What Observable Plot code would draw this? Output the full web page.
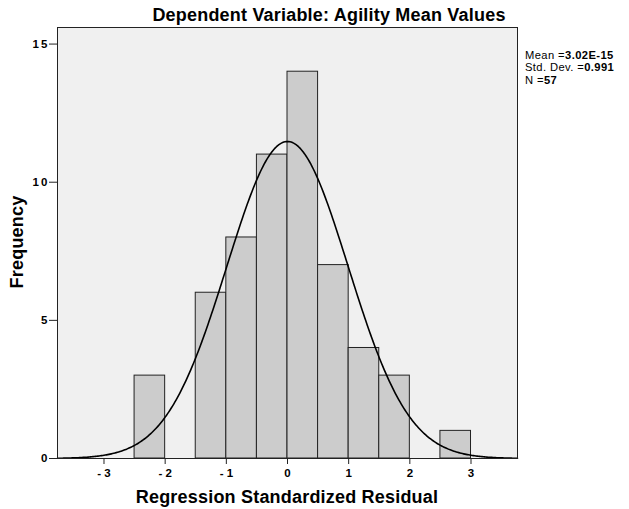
<!DOCTYPE html>
<html>
<head>
<meta charset="utf-8">
<script src="https://cdn.jsdelivr.net/npm/d3@7"></script>
<script src="https://cdn.jsdelivr.net/npm/@observablehq/plot@0.6"></script>
<style>
  html, body { margin: 0; padding: 0; background: #fff; }
  svg { display: block; }
</style>
</head>
<body>
<div id="chart"></div>
<script>
// Histogram bins (lower edge, upper edge) and counts
const binStart = [-2.5, -1.5, -1.0, -0.5, 0.0, 0.5, 1.0, 1.5, 2.5];
const binEnd   = [-2.0, -1.0, -0.5, 0.0, 0.5, 1.0, 1.5, 2.0, 3.0];
const counts   = [3, 6, 8, 11, 14, 7, 4, 3, 1];
const xTicks = [-3, -2, -1, 0, 1, 2, 3];
const yTicks = [0, 5, 10, 15];
const statMean = 3.02e-15;
const statSD = 0.991;
const statN = 57;
const binWidth = 0.5;

const bars = binStart.map((s, i) => ({x1: s, x2: binEnd[i], y: counts[i]}));

// Normal curve defined by the stated mean / std. dev. / N
const xDomain = [-3.76, 3.76];
const curve = d3.range(xDomain[0], xDomain[1] + 0.001, 0.02).map(x => ({
  x,
  y: statN * binWidth / (statSD * Math.sqrt(2 * Math.PI)) * Math.exp(-0.5 * ((x - statMean) / statSD) ** 2)
}));

const W = 629, H = 509;
const mL = 57, mR = 112, mT = 27, mB = 51;
const font = "'Liberation Sans', Arial, Helvetica, sans-serif";

const chart = Plot.plot({
  width: W,
  height: H,
  marginLeft: mL,
  marginRight: mR,
  marginTop: mT,
  marginBottom: mB,
  style: {fontFamily: font, background: "#fff", overflow: "visible"},
  x: {domain: xDomain, axis: null},
  y: {domain: [0, 15.6], axis: null},
  marks: [
    Plot.frame({fill: "#f0f0f0", stroke: "none"}),
    Plot.rectY(bars, {x1: "x1", x2: "x2", y: "y", fill: "#cccccc", stroke: "#222", strokeWidth: 1}),
    Plot.line(curve, {x: "x", y: "y", stroke: "#000", strokeWidth: 1.6}),
    Plot.frame({stroke: "#222", strokeWidth: 1}),
    Plot.axisX({ticks: xTicks, tickSize: 6, tickPadding: 4, stroke: "#222",
      tickFormat: d => d < 0 ? "- " + Math.abs(d) : String(d),
      fontWeight: "bold", fontSize: 11.5, fill: "#000", label: null}),
    Plot.axisY({ticks: yTicks, tickSize: 8, tickPadding: 2, stroke: "#222",
      tickFormat: d => String(d).split("").join("\u2009"),
      fontWeight: "bold", fontSize: 11.5, fill: "#000", label: null})
  ]
});

document.getElementById("chart").appendChild(chart);

const svg = d3.select(chart);
svg.append("text")
  .attr("x", 329).attr("y", 21)
  .attr("text-anchor", "middle")
  .attr("font-family", font).attr("font-weight", "bold").attr("font-size", 18)
  .attr("letter-spacing", 0.2)
  .text("Dependent Variable: Agility Mean Values");
svg.append("text")
  .attr("x", 287).attr("y", 503)
  .attr("text-anchor", "middle")
  .attr("font-family", font).attr("font-weight", "bold").attr("font-size", 18)
  .attr("letter-spacing", 0.2)
  .text("Regression Standardized Residual");
svg.append("text")
  .attr("transform", "translate(23,242) rotate(-90)")
  .attr("text-anchor", "middle")
  .attr("font-family", font).attr("font-weight", "bold").attr("font-size", 18)
  .attr("letter-spacing", 0.2)
  .text("Frequency");

const legend = [["Mean =", "3.02E-15"], ["Std. Dev. =", "0.991"], ["N =", "57"]];
legend.forEach(([a, b], i) => {
  const t = svg.append("text")
    .attr("x", 525).attr("y", 59 + i * 12.3)
    .attr("text-anchor", "start")
    .attr("letter-spacing", 0.4)
    .attr("font-family", font).attr("font-size", 11.2).attr("fill", "#000");
  t.append("tspan").text(a);
  t.append("tspan").attr("font-weight", "bold").text(b);
});
</script>
</body>
</html>
